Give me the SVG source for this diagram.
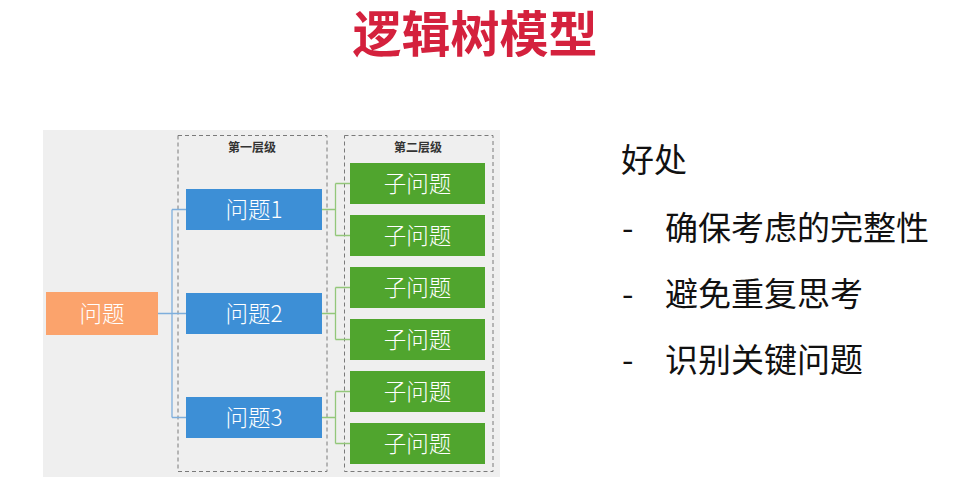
<svg xmlns="http://www.w3.org/2000/svg" width="964" height="486" viewBox="0 0 964 486">
<style>
.cjk{font-family:"Noto Sans CJK SC","Noto Sans",sans-serif}
.box-t{font-family:"Noto Sans CJK SC","Noto Sans",sans-serif;font-size:22.5px;font-weight:300;fill:#ffffff;text-anchor:middle}
.lvl{font-family:"Noto Sans CJK SC",sans-serif;font-size:12px;font-weight:700;fill:#333;text-anchor:middle}
.dash{fill:none;stroke:#7a7a7a;stroke-width:1;stroke-dasharray:4 3}
.blue{fill:#3d8fd6}
.green{fill:#50a52e}
.cb{fill:none;stroke:#7eaedc;stroke-width:1.3}
.cg{fill:none;stroke:#93c77a;stroke-width:1.3}
.rt{font-family:"Noto Sans CJK SC","Noto Sans",sans-serif;font-size:33px;fill:#111}
</style>
<rect x="0" y="0" width="964" height="486" fill="#ffffff"/>
<text class="cjk" x="475" y="52" font-size="49" font-weight="700" fill="#d4213d" text-anchor="middle">逻辑树模型</text>
<rect x="43" y="130" width="457" height="347" fill="#efefef"/>
<g id="level1">
<rect class="dash" x="178" y="135.5" width="149" height="336"/>
<text class="lvl" x="252" y="151.5">第一层级</text>
</g>
<g id="level2">
<rect class="dash" x="344.5" y="135.5" width="148.5" height="336"/>
<text class="lvl" x="418" y="151.5">第二层级</text>
</g>
<g id="connectors">
<path class="cb" d="M158,313.5H172M172,209.5V417.5M172,209.5H186M172,313.5H186M172,417.5H186"/>
<path class="cg" d="M322,209.5H335.5M335.5,183.5V235.5M335.5,183.5H350M335.5,235.5H350"/>
<path class="cg" d="M322,313.5H335.5M335.5,287.5V339.5M335.5,287.5H350M335.5,339.5H350"/>
<path class="cg" d="M322,417.5H335.5M335.5,391.5V443.5M335.5,391.5H350M335.5,443.5H350"/>
</g>
<g id="root">
<rect x="46" y="292" width="112" height="43" fill="#fba36c"/>
<text class="box-t" x="102" y="321.5">问题</text>
</g>
<g id="q1">
<rect class="blue" x="186" y="189" width="136" height="41"/>
<text class="box-t" x="254" y="217.5">问题1</text>
</g>
<g id="q2">
<rect class="blue" x="186" y="293" width="136" height="41"/>
<text class="box-t" x="254" y="321.5">问题2</text>
</g>
<g id="q3">
<rect class="blue" x="186" y="397" width="136" height="41"/>
<text class="box-t" x="254" y="425.5">问题3</text>
</g>
<g id="s1"><rect class="green" x="350" y="163" width="135" height="41"/><text class="box-t" x="417.5" y="191.5">子问题</text></g>
<g id="s2"><rect class="green" x="350" y="215" width="135" height="41"/><text class="box-t" x="417.5" y="243.5">子问题</text></g>
<g id="s3"><rect class="green" x="350" y="267" width="135" height="41"/><text class="box-t" x="417.5" y="295.5">子问题</text></g>
<g id="s4"><rect class="green" x="350" y="319" width="135" height="41"/><text class="box-t" x="417.5" y="347.5">子问题</text></g>
<g id="s5"><rect class="green" x="350" y="371" width="135" height="41"/><text class="box-t" x="417.5" y="399.5">子问题</text></g>
<g id="s6"><rect class="green" x="350" y="423" width="135" height="41"/><text class="box-t" x="417.5" y="451.5">子问题</text></g>
<g id="benefits">
<text class="rt" x="621" y="172">好处</text>
<text class="rt" x="622" y="240">-</text>
<text class="rt" x="665" y="240">确保考虑的完整性</text>
<text class="rt" x="622" y="306">-</text>
<text class="rt" x="665" y="306">避免重复思考</text>
<text class="rt" x="622" y="372">-</text>
<text class="rt" x="665" y="372">识别关键问题</text>
</g>
</svg>
